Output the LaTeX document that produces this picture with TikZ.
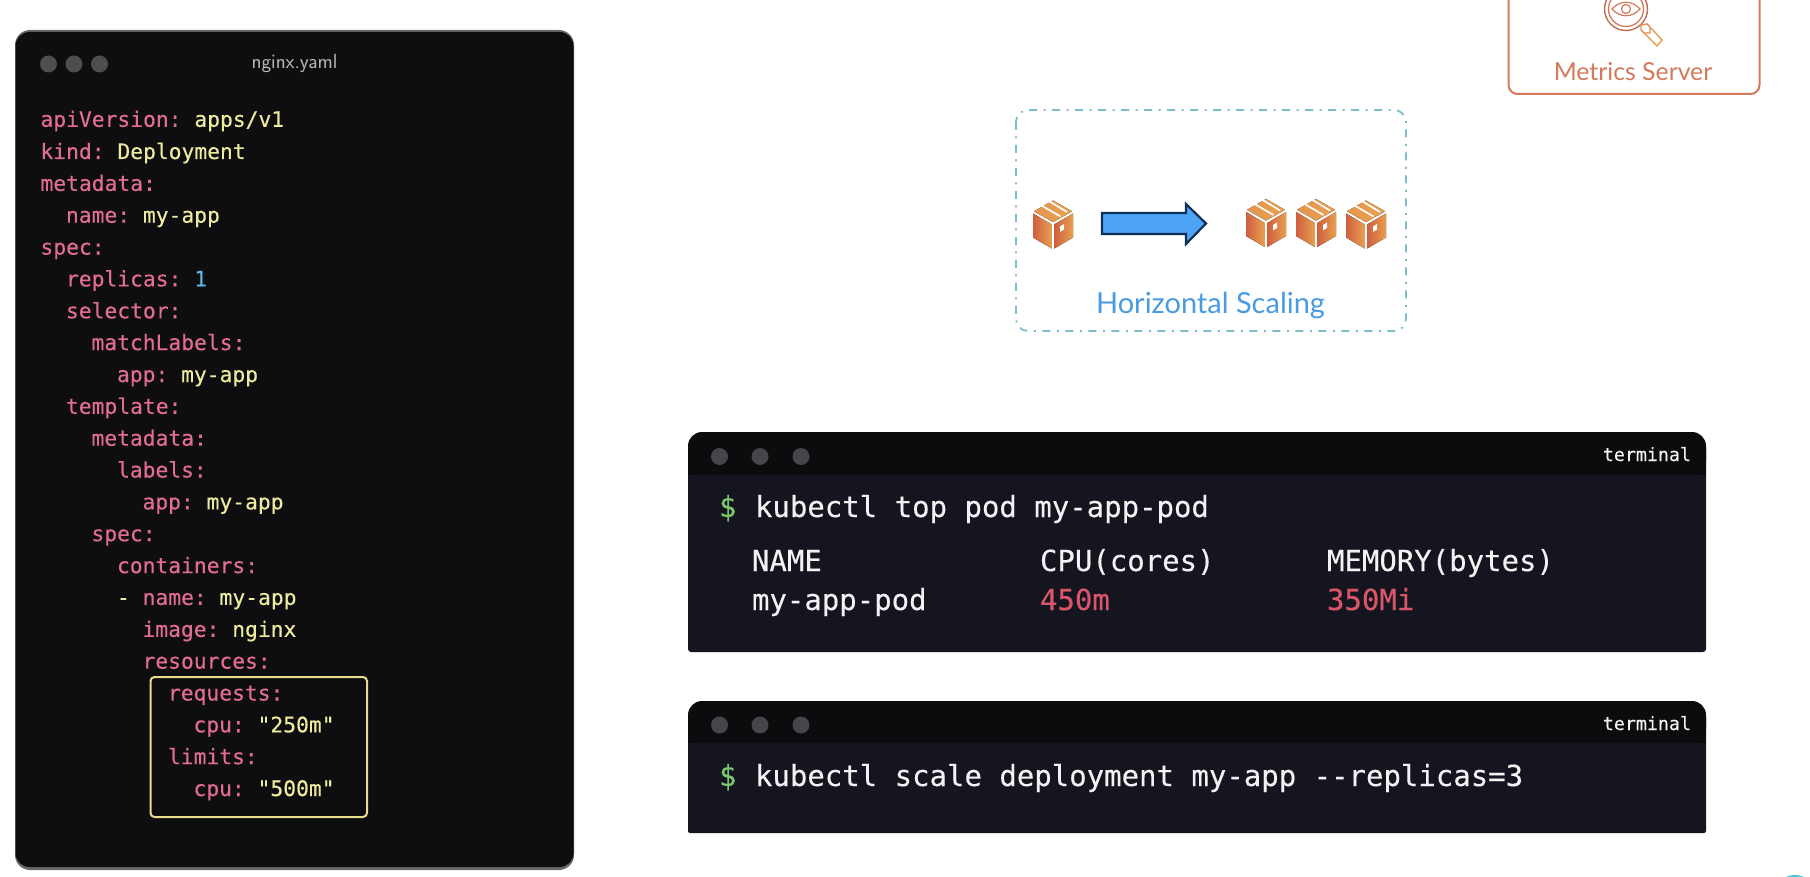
\documentclass[tikz,border=0pt]{standalone}
\usepackage{fontspec}
\setmainfont{Lato}
\setmonofont[FakeBold=0.25]{DejaVu Sans Mono}
\usetikzlibrary{shadings}
\definecolor{winbg}{HTML}{0E0E10}
\definecolor{winedge}{HTML}{6A6A6C}
\definecolor{dotc}{HTML}{4E4E50}
\definecolor{keyc}{HTML}{E26C92}
\definecolor{valc}{HTML}{EDEB9E}
\definecolor{numc}{HTML}{5CC0F0}
\definecolor{boxy}{HTML}{E8DC8E}
\definecolor{termhead}{HTML}{0C0C0E}
\definecolor{termbody}{HTML}{14151F}
\definecolor{termdot}{HTML}{45464A}
\definecolor{greenc}{HTML}{7CC86E}
\definecolor{redc}{HTML}{D9566A}
\definecolor{termtxt}{HTML}{F2F2F2}
\definecolor{tealc}{HTML}{7CBCCB}
\definecolor{bluet}{HTML}{4A9BE0}
\definecolor{orgline}{HTML}{D47A5C}
\definecolor{arrfill}{HTML}{4DA3F5}
\definecolor{arrline}{HTML}{0F2F57}
\definecolor{boxred}{HTML}{CF5F40}
\definecolor{boxorg}{HTML}{E9A050}
\definecolor{badge}{HTML}{3FC8D8}
\tikzset{
  x=1pt,y=-1pt,
  txt/.style={inner sep=0pt,outer sep=0pt,anchor=base west},
  code/.style={txt,font=\fontsize{21.3}{21.3}\selectfont\ttfamily},
  term/.style={txt,font=\fontsize{29}{29}\selectfont\ttfamily,text=termtxt},
  dotw/.style={circle,fill=dotc,minimum size=17pt,inner sep=0pt},
  dott/.style={circle,fill=termdot,minimum size=17pt,inner sep=0pt},
  pics/carton/.style={code={
    \fill[left color=boxred,right color=boxorg] (-20,-11)--(-1.2,0)--(-1.2,24)--(-20,13)--cycle;
    \fill[left color=boxred,right color=boxorg] (1.2,0)--(20,-11)--(20,13)--(1.2,24)--cycle;
    \fill[left color=boxorg!85!boxred,right color=boxorg] (0,-2.4)--(-19,-13.2)--(0,-24)--(19,-13.2)--cycle;
    \draw[white,line width=1.7pt] (-11.5,-19)--(7.5,-8) (-5,-24)--(14,-12.5);
    \fill[white] (7,2)--(11,-.5)--(11,5)--(7,7.5)--cycle;
  }}
}
\newcommand{\codeline}[4]{\node[code,text=keyc] at (#1,#2) {#3\textcolor{valc}{#4}};}
\begin{document}
\begin{tikzpicture}
\useasboundingbox (0,0) rectangle (1810,877);
\fill[white] (0,0) rectangle (1810,877);
% yaml window
\fill[winedge,rounded corners=15pt] (15,30) rectangle (574,870);
\fill[winbg,rounded corners=14pt] (15.5,32) rectangle (573.5,867);
\node[dotw] (d1) at (48.5,64) {};
\node[dotw] (d2) at (74,64) {};
\node[dotw] (d3) at (99.5,64) {};
\node[inner sep=0pt,text=white!72!black,font=\fontsize{20.5}{20.5}\selectfont\sffamily] (ttl) at (294.5,63.5) {nginx.yaml};
\codeline{40.5}{126.8}{apiVersion: }{apps/v1}
\codeline{40.5}{159}{kind: }{Deployment}
\codeline{40.5}{190.9}{metadata:}{}
\codeline{66}{222.7}{name: }{my-app}
\codeline{40.5}{254.6}{spec:}{}
\codeline{66}{286.4}{replicas: }{\textcolor{numc}{1}}
\codeline{66}{318.3}{selector:}{}
\codeline{91.5}{350.1}{matchLabels:}{}
\codeline{117}{382}{app: }{my-app}
\codeline{66}{413.8}{template:}{}
\codeline{91.5}{445.7}{metadata:}{}
\codeline{117}{477.5}{labels:}{}
\codeline{142.5}{509.4}{app: }{my-app}
\codeline{91.5}{541.2}{spec:}{}
\codeline{117}{573.1}{containers:}{}
\codeline{117}{604.9}{\textcolor{valc}{-} name: }{my-app}
\codeline{142.5}{636.8}{image: }{nginx}
\codeline{142.5}{668.6}{resources:}{}
\codeline{168}{700.5}{requests:}{}
\codeline{193.5}{732.3}{cpu: }{"250m"}
\codeline{168}{764.2}{limits:}{}
\codeline{193.5}{796}{cpu: }{"500m"}
\draw[boxy,line width=2pt,rounded corners=4pt] (150.5,677) rectangle (367,817);
% terminal 1
\fill[termbody,rounded corners=3pt] (688,445) rectangle (1706,652);
\fill[termhead,rounded corners=14pt] (688,432) -- (1706,432) -- (1706,475) -- (688,475) -- cycle;
\fill[termhead] (688,460) rectangle (1706,475);
\node[dott] (t1a) at (719.5,456.5) {};
\node[dott] (t1b) at (760,456.5) {};
\node[dott] (t1c) at (801,456.5) {};
\node[txt,anchor=base east,text=termtxt,font=\fontsize{18.3}{18.3}\selectfont\ttfamily] (t1n) at (1691,461) {terminal};
\node[term,text=greenc] (t1s) at (719,517) {\$};
\node[term] (t1l) at (755,517) {kubectl top pod my-app-pod};
\node[term] (h1) at (752,571) {NAME};
\node[term] (h2) at (1040,571) {CPU(cores)};
\node[term] (h3) at (1327,571) {MEMORY(bytes)};
\node[term] (r1) at (752,610) {my-app-pod};
\node[term,text=redc] (r2) at (1040,610) {450m};
\node[term,text=redc] (r3) at (1327,610) {350Mi};
% terminal 2
\fill[termbody,rounded corners=2pt] (688,715) rectangle (1706,833);
\fill[termhead,rounded corners=14pt] (688,701) -- (1706,701) -- (1706,743) -- (688,743) -- cycle;
\fill[termhead] (688,728) rectangle (1706,743);
\node[dott] (t2a) at (719.5,725) {};
\node[dott] (t2b) at (760,725) {};
\node[dott] (t2c) at (801,725) {};
\node[txt,anchor=base east,text=termtxt,font=\fontsize{18.3}{18.3}\selectfont\ttfamily] (t2n) at (1691,730) {terminal};
\node[term,text=greenc] (t2s) at (719,786) {\$};
\node[term] (t2l) at (755,786) {kubectl scale deployment my-app --replicas=3};
% scaling box
\draw[tealc,line width=1.8pt,rounded corners=12pt,dash pattern=on 8pt off 6.5pt on 2pt off 6.5pt] (1016,110) rectangle (1406,331);
\pic at (1053,224.5) {carton};
\pic at (1266,223) {carton};
\pic at (1316,223) {carton};
\pic at (1366,224.5) {carton};
\draw[arrline,line width=2.2pt,fill=arrfill,line join=miter] (1102,213)--(1186,213)--(1186,204)--(1206,223.5)--(1186,244)--(1186,234)--(1102,234)--cycle;
\node[inner sep=0pt,text=bluet,font=\fontsize{29}{29}\selectfont] (hs) at (1210.5,305) {Horizontal Scaling};
% metrics server
\draw[orgline,line width=2pt,rounded corners=9pt] (1508.5,-20) rectangle (1759.5,94);
\node[inner sep=0pt,text=orgline,font=\fontsize{24.8}{24.8}\selectfont] (ms) at (1633,72) {Metrics Server};
\begin{scope}
\draw[orgline!90!black,line width=1.4pt] (1626,9) circle (21.5);
\draw[orgline,line width=1.3pt] (1626,9) circle (17.5);
\draw[orgline,line width=1.2pt] (1612,9) .. controls (1620,0) and (1632,0) .. (1640,9) .. controls (1632,18) and (1620,18) .. (1612,9) -- cycle;
\draw[orgline,line width=1.2pt] (1626,9) circle (4.5);
\draw[orgline!50!boxorg,line width=1.4pt] (1641,25)--(1647,24)--(1650,27)--(1650,33)--(1644,33)--(1641,30)--cycle;
\draw[boxorg,line width=1.4pt] (1650,27)--(1662,40)--(1657,46)--(1644,33);
\end{scope}
% corner badge
\fill[badge] (1795,896) circle (21);
\end{tikzpicture}
\end{document}
